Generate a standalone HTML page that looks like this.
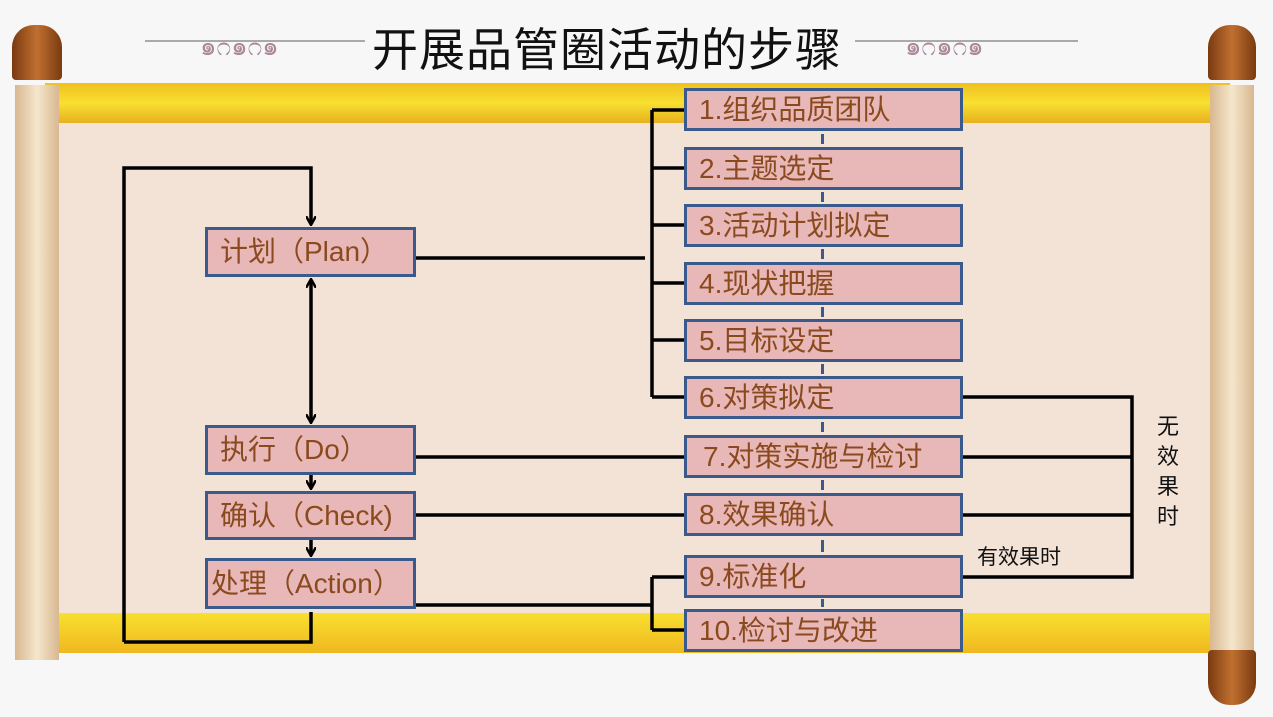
<!DOCTYPE html>
<html><head><meta charset="utf-8"><style>
body{margin:0;width:1273px;height:717px;position:relative;overflow:hidden;background:#f7f7f7;font-family:"Liberation Sans","Noto Sans CJK SC",sans-serif}
.a{position:absolute}
.bx{position:absolute;background:#e8b8b8;border:3px solid #3a5a8c;box-sizing:border-box;color:#8a4a1e;font-size:28px;line-height:37px;padding-left:12px;white-space:nowrap}
</style></head><body>
<div class="a" style="left:45px;top:83px;width:1185px;height:570px;background:#f3e3d6"></div>
<div class="a" style="left:45px;top:83px;width:1185px;height:40px;background:linear-gradient(#f0c020,#f8e030 50%,#e8b020)"></div>
<div class="a" style="left:45px;top:613px;width:1185px;height:40px;background:linear-gradient(#f8e030,#f0b820)"></div>
<div class="a" style="left:15px;top:85px;width:44px;height:575px;background:linear-gradient(90deg,#d8b890,#f5e6cc,#d8b890)"></div>
<div class="a" style="left:12px;top:25px;width:50px;height:55px;border-radius:22px 22px 4px 4px;background:linear-gradient(90deg,#7a3a10,#c07030,#7a3a10)"></div>
<div class="a" style="left:1210px;top:85px;width:44px;height:575px;background:linear-gradient(90deg,#d8b890,#f5e6cc,#d8b890)"></div>
<div class="a" style="left:1208px;top:25px;width:48px;height:55px;border-radius:22px 22px 4px 4px;background:linear-gradient(90deg,#7a3a10,#c07030,#7a3a10)"></div>
<div class="a" style="left:1208px;top:650px;width:48px;height:55px;border-radius:4px 4px 22px 22px;background:linear-gradient(90deg,#7a3a10,#c07030,#7a3a10)"></div>
<div class="a" style="left:145px;top:40px;width:220px;height:2px;background:#aaa"></div>
<div class="a" style="left:855px;top:40px;width:223px;height:2px;background:#aaa"></div>
<div class="a" style="left:200px;top:26px;color:#a89;font-size:26px">๑೧๑೧๑</div>
<div class="a" style="left:905px;top:26px;color:#a89;font-size:26px">๑೧๑೧๑</div>
<div class="a" style="left:372px;top:14px;font-size:46px;color:#111;letter-spacing:1px">开展品管圈活动的步骤</div>

<svg class="a" style="left:0;top:0" width="1273" height="717">
<defs><marker id="m" markerWidth="10" markerHeight="10" refX="8" refY="5" orient="auto" markerUnits="userSpaceOnUse"><path d="M0,0L9,5L0,10" fill="none" stroke="#000" stroke-width="2.5"/></marker></defs>
<g stroke="#000" stroke-width="3.5" fill="none">
<path d="M652,110V397M652,110H684M652,168H684M652,225H684M652,283H684M652,340H684M652,397H684"/>
<path d="M416,258H645"/>
<path d="M416,457H684M416,515H684"/>
<path d="M416,605H652M652,577V630M652,577H684M652,630H684"/>
<path d="M963,397H1132V577H963M963,457H1132M963,515H1132"/>
<path d="M124,642V168H311V224" marker-end="url(#m)"/>
<path d="M124,642H311V612"/>
<path d="M311,350V422" marker-end="url(#m)"/>
<path d="M311,350V280" marker-end="url(#m)"/>
<path d="M311,475V488" marker-end="url(#m)"/>
<path d="M311,540V555" marker-end="url(#m)"/>
</g>
<g fill="#3a5a8c"><rect x="821" y="134" width="3" height="10"/><rect x="821" y="192" width="3" height="10"/><rect x="821" y="249" width="3" height="10"/><rect x="821" y="307" width="3" height="10"/><rect x="821" y="364" width="3" height="10"/><rect x="821" y="422" width="3" height="10"/><rect x="821" y="480" width="3" height="10"/><rect x="821" y="540" width="3" height="12"/><rect x="821" y="599" width="3" height="8"/></g>
</svg>

<div class="bx" style="left:205px;top:227px;width:211px;height:50px;line-height:44px">计划（Plan）</div>
<div class="bx" style="left:205px;top:425px;width:211px;height:50px;line-height:44px">执行（Do）</div>
<div class="bx" style="left:205px;top:491px;width:211px;height:49px;line-height:43px">确认（Check)</div>
<div class="bx" style="left:205px;top:558px;width:211px;height:51px;line-height:45px;padding-left:3px">处理（Action）</div>

<div class="bx" style="left:684px;top:88px;width:279px;height:43px">1.组织品质团队</div>
<div class="bx" style="left:684px;top:147px;width:279px;height:43px">2.主题选定</div>
<div class="bx" style="left:684px;top:204px;width:279px;height:43px">3.活动计划拟定</div>
<div class="bx" style="left:684px;top:262px;width:279px;height:43px">4.现状把握</div>
<div class="bx" style="left:684px;top:319px;width:279px;height:43px">5.目标设定</div>
<div class="bx" style="left:684px;top:376px;width:279px;height:43px">6.对策拟定</div>
<div class="bx" style="left:684px;top:435px;width:279px;height:43px;padding-left:16px">7.对策实施与检讨</div>
<div class="bx" style="left:684px;top:493px;width:279px;height:43px">8.效果确认</div>
<div class="bx" style="left:684px;top:555px;width:279px;height:43px">9.标准化</div>
<div class="bx" style="left:684px;top:609px;width:279px;height:43px">10.检讨与改进</div>

<div class="a" style="left:977px;top:541px;font-size:21px;color:#111">有效果时</div>
<div class="a" style="left:1157px;top:412px;font-size:22px;line-height:30px;width:24px;color:#111">无效果时</div>
</body></html>
